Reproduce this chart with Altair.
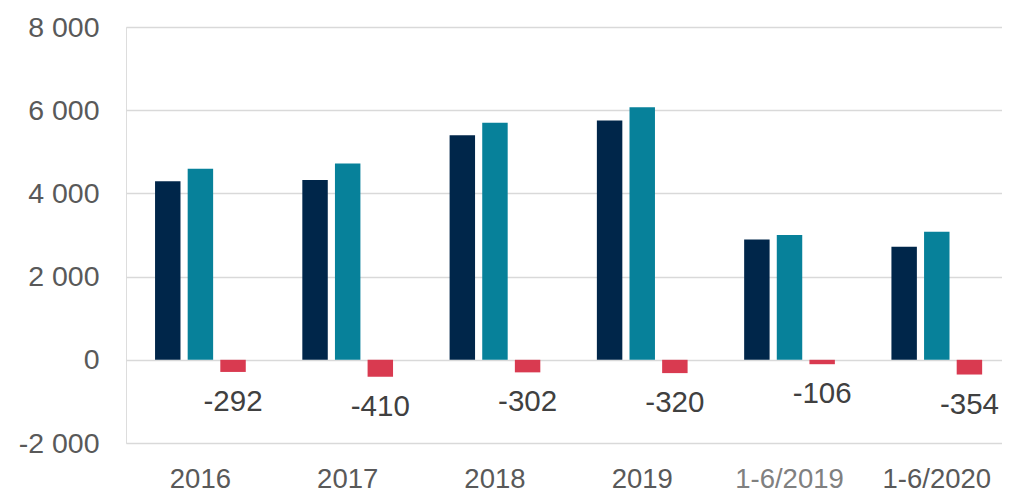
import altair as alt
import pandas as pd

categories = ["2016", "2017", "2018", "2019", "1-6/2019", "1-6/2020"]
series_navy = [4290, 4320, 5400, 5750, 2890, 2720]
series_teal = [4590, 4720, 5700, 6070, 3000, 3080]
series_red = [-292, -410, -302, -320, -106, -354]
series_keys = ["A", "B", "C"]
series_colors = ["#00264A", "#07819A", "#D93A50"]
y_ticks = [-2000, 0, 2000, 4000, 6000, 8000]

rows = []
for i, c in enumerate(categories):
    rows.append({"cat": c, "series": "A", "value": series_navy[i], "label": ""})
    rows.append({"cat": c, "series": "B", "value": series_teal[i], "label": ""})
    rows.append({"cat": c, "series": "C", "value": series_red[i], "label": str(series_red[i])})
df = pd.DataFrame(rows)

FONT = "Liberation Sans"

x_enc = alt.X(
    "cat:N",
    sort=categories,
    scale=alt.Scale(paddingInner=0.384, paddingOuter=0.166, align=0.594),
    axis=alt.Axis(
        title=None,
        labelAngle=0,
        domain=False,
        ticks=False,
        grid=False,
        labelFontSize=27.5,
        labelFont=FONT,
        labelPadding=22,
        labelColor={"condition": {"test": "datum.value == '1-6/2019'", "value": "#808080"}, "value": "#595959"},
    ),
)
xoff_enc = alt.XOffset("series:N", sort=series_keys, scale=alt.Scale(paddingInner=0.22, paddingOuter=0))
y_enc = alt.Y(
    "value:Q",
    scale=alt.Scale(domain=[-2000, 8000], nice=False, zero=False),
    axis=alt.Axis(
        title=None,
        values=y_ticks,
        domain=False,
        ticks=False,
        labelFontSize=28.5,
        labelFont=FONT,
        labelColor="#595959",
        labelPadding=27,
        gridColor="#D9D9D9",
        gridWidth=1.5,
        labelExpr="(datum.value < 0 ? '-' : '') + replace(format(abs(datum.value), ','), ',', ' ')",
    ),
)

bars = alt.Chart(df).mark_bar().encode(
    x=x_enc,
    xOffset=xoff_enc,
    y=y_enc,
    color=alt.Color("series:N", scale=alt.Scale(domain=series_keys, range=series_colors), legend=None),
)

labels = alt.Chart(df).transform_filter("datum.series == 'C'").mark_text(
    font=FONT, fontSize=29.5, color="#404040", baseline="middle", align="center", dy=30
).encode(
    x=alt.X("cat:N", sort=categories),
    xOffset=alt.XOffset("series:N", sort=series_keys),
    y=alt.Y("value:Q"),
    text="label:N",
)

chart = alt.layer(bars, labels).properties(
    width=876,
    height=416,
    autosize=alt.AutoSizeParams(type="none"),
    padding={"left": 118, "top": 19, "right": 0, "bottom": 58},
).configure_view(stroke=None).configure(background="white")

chart.save("out.html", embed_options={"renderer": "svg", "actions": False})
